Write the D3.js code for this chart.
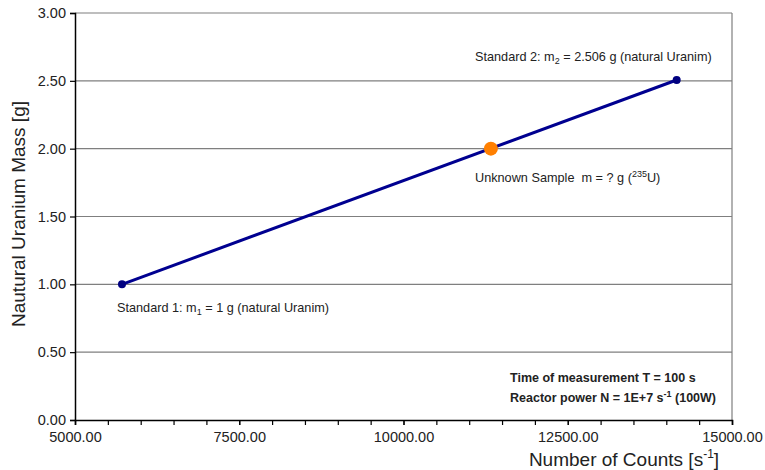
<!DOCTYPE html>
<html><head><meta charset="utf-8">
<script src="https://d3js.org/d3.v7.min.js"></script>
<style>body{margin:0;background:#fff}svg{font-family:"Liberation Sans",Arial,sans-serif}text{white-space:pre}</style>
</head><body><svg id="c" width="765" height="470"></svg>
<script>
const standardCounts = [5715, 14158];
const standardMass = [1.0, 2.506];
const unknownCount = [11330];
const unknownMass = [2.0];
const xTicks = [5000, 7500, 10000, 12500, 15000];
const yTicks = [0, 0.5, 1.0, 1.5, 2.0, 2.5, 3.0];

const svg = d3.select("#c");
const L = 75, R = 732, T = 13, B = 420;
const x = d3.scaleLinear().domain([5000, 15000]).range([L, R]);
const y = d3.scaleLinear().domain([0, 3]).range([B, T]);

// gridlines
svg.append("g").selectAll("line").data(yTicks.filter(d => d > 0)).join("line")
  .attr("x1", L).attr("x2", R).attr("y1", d => y(d)).attr("y2", d => y(d))
  .attr("stroke", "#7f7f7f").attr("stroke-width", 1.2);
// right border
svg.append("line").attr("x1", R).attr("x2", R).attr("y1", T).attr("y2", B)
  .attr("stroke", "#7f7f7f").attr("stroke-width", 1.2);

// x axis
const xMinor = d3.range(5000, 15001, 500);
svg.append("g").attr("transform", `translate(0,${B})`)
  .call(d3.axisBottom(x).tickValues(xMinor).tickSize(5).tickFormat(""))
  .call(g => g.select(".domain").attr("stroke", "#000").attr("stroke-width", 1.5))
  .call(g => g.selectAll(".tick line").attr("stroke", "#000").attr("stroke-width", 1.2));
svg.append("g").attr("transform", `translate(0,${B})`)
  .call(d3.axisBottom(x).tickValues(xTicks).tickSize(5).tickPadding(7).tickFormat(d3.format(".2f")))
  .call(g => g.select(".domain").remove())
  .call(g => g.selectAll(".tick line").attr("stroke", "#000").attr("stroke-width", 1.2))
  .call(g => g.selectAll("text").attr("font-size", 14.5).attr("fill", "#222").attr("font-family", "Liberation Sans, Arial, sans-serif"));

// y axis
svg.append("g").attr("transform", `translate(${L},0)`)
  .call(d3.axisLeft(y).tickValues(yTicks).tickSize(5).tickPadding(4).tickFormat(d3.format(".2f")))
  .call(g => g.select(".domain").attr("stroke", "#000").attr("stroke-width", 1.5))
  .call(g => g.selectAll(".tick line").attr("stroke", "#000").attr("stroke-width", 1.2))
  .call(g => g.selectAll("text").attr("font-size", 14.5).attr("fill", "#222").attr("font-family", "Liberation Sans, Arial, sans-serif"));

// axis titles
svg.append("text").attr("transform", `translate(25,214) rotate(-90)`)
  .attr("text-anchor", "middle").attr("font-size", 19).attr("fill", "#222")
  .text("Nautural Uranium Mass [g]");
const xt = svg.append("text").attr("x", 624).attr("y", 466).attr("text-anchor", "middle")
  .attr("font-size", 19).attr("fill", "#222");
xt.append("tspan").text("Number of Counts [s");
xt.append("tspan").attr("dy", -8).attr("font-size", 12).text("-1");
xt.append("tspan").attr("dy", 8).text("]");

// line
const pts = standardCounts.map((c, i) => [c, standardMass[i]]);
svg.append("path").datum(pts)
  .attr("d", d3.line().x(d => x(d[0])).y(d => y(d[1])))
  .attr("stroke", "#000090").attr("stroke-width", 3).attr("fill", "none");
svg.append("g").selectAll("circle").data(pts).join("circle")
  .attr("cx", d => x(d[0])).attr("cy", d => y(d[1])).attr("r", 4).attr("fill", "#000080");
svg.append("g").selectAll("circle").data(unknownCount.map((c, i) => [c, unknownMass[i]])).join("circle")
  .attr("cx", d => x(d[0])).attr("cy", d => y(d[1])).attr("r", 7).attr("fill", "#ff7f00");

// annotations
function ann(xp, yp, parts, opts = {}) {
  const t = svg.append("text").attr("x", xp).attr("y", yp).attr("font-size", opts.size || 12.7)
    .attr("fill", "#222").attr("font-weight", opts.bold ? "bold" : "normal");
  parts.forEach(p => {
    const s = t.append("tspan").text(p.t);
    if (p.sub) s.attr("dy", 3).attr("font-size", 9);
    if (p.sup) s.attr("dy", -5).attr("font-size", 9);
    if (p.back) s.attr("dy", p.back);
  });
}
ann(117, 312, [{t: "Standard 1: m"}, {t: "1", sub: true}, {t: " = 1 g (natural Uranim)", back: -3}]);
ann(475, 61, [{t: "Standard 2: m"}, {t: "2", sub: true}, {t: " = 2.506 g (natural Uranim)", back: -3}]);
ann(475, 182, [{t: "Unknown Sample  m = ? g ("}, {t: "235", sup: true}, {t: "U)", back: 5}]);
ann(510, 382, [{t: "Time of measurement T = 100 s"}], {bold: true, size: 12.5});
ann(510, 402, [{t: "Reactor power N = 1E+7 s"}, {t: "-1", sup: true}, {t: " (100W)", back: 5}], {bold: true, size: 12.5});
</script></body></html>
